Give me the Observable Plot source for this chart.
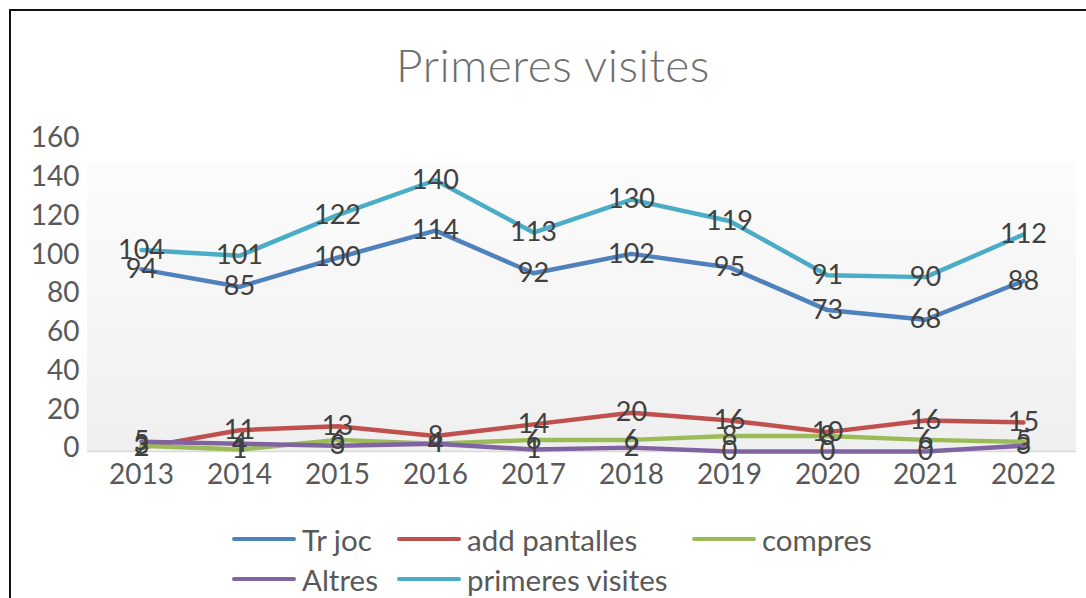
<!DOCTYPE html>
<html>
<head>
<meta charset="utf-8">
<script src="https://cdn.jsdelivr.net/npm/d3@7"></script>
<script src="https://cdn.jsdelivr.net/npm/@observablehq/plot@0.6"></script>
<style>
  html, body { margin: 0; padding: 0; background: #fff; }
  #wrap { position: relative; width: 1086px; height: 598px; overflow: hidden; font-family: Lato, "Open Sans", sans-serif; }
  #frame { position: absolute; left: 9px; top: 9px; width: 1200px; height: 700px; border: 2px solid #111; box-sizing: border-box; }
  #bg { position: absolute; left: 87px; top: 162px; width: 989px; height: 289px; background: linear-gradient(#fcfcfc, #efefef); }
  #title { position: absolute; left: 0; width: 1106px; top: 37px; text-align: center; font-size: 46px; font-weight: 300; color: #6e6e6e; letter-spacing: 0.5px; }
  #chart { position: absolute; left: 0; top: 0; }
  .leg { position: absolute; display: flex; align-items: center; font-size: 29.5px; color: #595959; white-space: nowrap; }
  .sw { width: 64px; height: 4.5px; border-radius: 3px; margin-right: 6px; }
</style>
</head>
<body>
<div id="wrap">
  <div id="frame"></div>
  <div id="bg"></div>
  <div id="title"></div>
  <div id="chart"></div>
  <div id="legend"></div>
</div>
<script>
const chartTitle = "Primeres visites";
const years = ["2013","2014","2015","2016","2017","2018","2019","2020","2021","2022"];
const seriesNames = ["Tr joc", "add pantalles", "compres", "Altres", "primeres visites"];
const seriesColors = ["#4f81bd", "#c0504d", "#9bbb59", "#8064a2", "#4bacc6"];
const trJoc = [94, 85, 100, 114, 92, 102, 95, 73, 68, 88];
const addPantalles = [2, 11, 13, 8, 14, 20, 16, 10, 16, 15];
const compres = [3, 1, 6, 4, 6, 6, 8, 8, 6, 5];
const altres = [5, 4, 3, 4, 1, 2, 0, 0, 0, 3];
const primeresVisites = [104, 101, 122, 140, 113, 130, 119, 91, 90, 112];
const yTicks = [0, 20, 40, 60, 80, 100, 120, 140, 160];

const seriesValues = [trJoc, addPantalles, compres, altres, primeresVisites];
const rows = [];
seriesNames.forEach((name, i) => {
  years.forEach((yr, j) => rows.push({series: name, year: yr, value: seriesValues[i][j]}));
});

document.getElementById("title").textContent = chartTitle;

const lineMarks = seriesNames.map((name, i) =>
  Plot.line(rows.filter(r => r.series === name), {
    x: "year", y: "value", stroke: seriesColors[i], strokeWidth: 4.5,
    strokeLinejoin: "round", strokeLinecap: "round"
  })
);

const chart = Plot.plot({
  width: 1086,
  height: 500,
  marginLeft: 87,
  marginRight: 10,
  marginTop: 141,
  marginBottom: 49,
  style: { background: "transparent", fontFamily: "Lato, 'Open Sans', sans-serif", color: "#595959" },
  x: { type: "point", domain: years, padding: 0.5 },
  y: { domain: [0, 160] },
  marks: [
    Plot.ruleY([0], { stroke: "#d9d9d9", strokeWidth: 1.5 }),
    Plot.axisY(yTicks, { tickSize: 0, tickPadding: 8, fontSize: 28, dy: -3, label: null, tickFormat: d => String(d) }),
    Plot.axisX({ tickSize: 0, tickPadding: 13, fontSize: 28, label: null }),
    ...lineMarks,
    Plot.text(rows, { x: "year", y: "value", text: d => String(d.value), fontSize: 27, fill: "#404040", lineAnchor: "middle", textAnchor: "middle" })
  ]
});
document.getElementById("chart").appendChild(chart);

// legend
const legendPos = [
  {left: 232, top: 539}, {left: 397, top: 539}, {left: 692, top: 539},
  {left: 232, top: 579}, {left: 397, top: 579}
];
const legend = document.getElementById("legend");
seriesNames.forEach((name, i) => {
  const item = document.createElement("div");
  item.className = "leg";
  item.style.left = legendPos[i].left + "px";
  item.style.top = (legendPos[i].top - 20) + "px";
  item.style.height = "40px";
  const sw = document.createElement("div");
  sw.className = "sw";
  sw.style.background = seriesColors[i];
  const tx = document.createElement("span");
  tx.textContent = name;
  item.appendChild(sw);
  item.appendChild(tx);
  legend.appendChild(item);
});
</script>
</body>
</html>
